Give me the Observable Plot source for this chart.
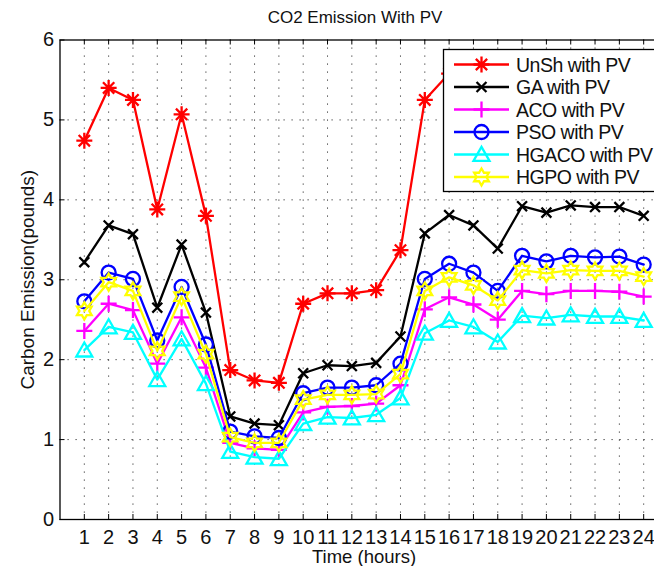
<!DOCTYPE html>
<html>
<head>
<meta charset="utf-8">
<script src="https://cdn.jsdelivr.net/npm/d3@7"></script>
<script src="https://cdn.jsdelivr.net/npm/@observablehq/plot@0.6"></script>
<style>
  html, body { margin: 0; padding: 0; background: #fff; overflow: hidden; width: 654px; height: 566px; }
  #chart svg { display: block; max-width: none !important; }
</style>
</head>
<body>
<div id="chart"></div>
<script>
// Hourly carbon emission (pounds) for each scheduling method, with PV generation
const hours = [1, 2, 3, 4, 5, 6, 7, 8, 9, 10, 11, 12, 13, 14, 15, 16, 17, 18, 19, 20, 21, 22, 23, 24];
const yTicks = [0, 1, 2, 3, 4, 5, 6];

const seriesNames = ["UnSh with PV", "GA with PV", "ACO with PV", "PSO with PV", "HGACO with PV", "HGPO with PV"];
const seriesColors = ["#ff0000", "#000000", "#ff00ff", "#0000ff", "#00ffff", "#ffff00"];

const unshPV  = [4.74, 5.40, 5.25, 3.88, 5.07, 3.80, 1.87, 1.74, 1.71, 2.70, 2.83, 2.83, 2.87, 3.37, 5.25, 5.58, 5.40, 5.00, 5.75, 5.65, 5.75, 5.72, 5.72, 5.58];
const gaPV    = [3.22, 3.68, 3.57, 2.65, 3.44, 2.59, 1.29, 1.20, 1.18, 1.83, 1.93, 1.92, 1.96, 2.29, 3.58, 3.81, 3.68, 3.39, 3.92, 3.84, 3.93, 3.91, 3.91, 3.80];
const acoPV   = [2.36, 2.70, 2.62, 1.95, 2.53, 1.90, 0.96, 0.89, 0.87, 1.34, 1.41, 1.42, 1.45, 1.68, 2.63, 2.78, 2.69, 2.50, 2.86, 2.82, 2.86, 2.86, 2.85, 2.79];
const psoPV   = [2.73, 3.09, 3.01, 2.24, 2.91, 2.19, 1.10, 1.04, 1.02, 1.58, 1.65, 1.65, 1.68, 1.95, 3.01, 3.20, 3.09, 2.86, 3.30, 3.23, 3.30, 3.28, 3.29, 3.19];
const hgacoPV = [2.12, 2.41, 2.34, 1.75, 2.26, 1.70, 0.85, 0.78, 0.76, 1.20, 1.28, 1.27, 1.31, 1.52, 2.33, 2.49, 2.41, 2.22, 2.55, 2.52, 2.56, 2.54, 2.54, 2.49];
const hgpoPV  = [2.61, 2.97, 2.86, 2.11, 2.79, 2.07, 1.03, 0.96, 0.96, 1.50, 1.56, 1.56, 1.57, 1.82, 2.86, 3.03, 2.93, 2.74, 3.12, 3.08, 3.12, 3.11, 3.11, 3.04];
const seriesValues = [unshPV, gaPV, acoPV, psoPV, hgacoPV, hgpoPV];

// Marker shapes (stroke-only), in the style of classic MATLAB markers
const spokes = (angles) => ({
  draw(ctx, size) {
    const r = Math.sqrt(size / Math.PI);
    for (const a of angles) {
      const c = Math.cos(a * Math.PI / 180) * r, s = Math.sin(a * Math.PI / 180) * r;
      ctx.moveTo(-c, -s);
      ctx.lineTo(c, s);
    }
  }
});
const asterisk8 = spokes([0, 45, 90, 135]);
const cross = spokes([45, 135]);
const plus = spokes([0, 90]);
const ring = {
  draw(ctx, size) {
    const r = Math.sqrt(size / Math.PI);
    ctx.moveTo(r, 0);
    ctx.arc(0, 0, r, 0, 2 * Math.PI);
  }
};
const triangleUp = {
  draw(ctx, size) {
    const r = Math.sqrt(size / Math.PI);
    ctx.moveTo(0, -0.95 * r);
    ctx.lineTo(r, 0.8 * r);
    ctx.lineTo(-r, 0.8 * r);
    ctx.closePath();
  }
};
const hexagram = {
  draw(ctx, size) {
    const R = Math.sqrt(size / Math.PI), r = R / Math.sqrt(3);
    for (let k = 0; k < 12; k++) {
      const a = (-90 + k * 30) * Math.PI / 180, rr = k % 2 ? r : R;
      const px = Math.cos(a) * rr, py = Math.sin(a) * rr;
      if (k === 0) ctx.moveTo(px, py); else ctx.lineTo(px, py);
    }
    ctx.closePath();
  }
};
const seriesSymbols = [asterisk8, cross, plus, ring, triangleUp, hexagram];
const seriesMarkerR = [8, 7, 8, 7, 8, 8.5];

// Long-format rows built from the named arrays
const rows = seriesNames.flatMap((name, i) =>
  hours.map((h, j) => ({series: name, index: i, hour: h, value: seriesValues[i][j]}))
);

// Layout
const width = 680;           // the axes box runs past the page edge on the right
const height = 566;
const marginLeft = 59.5, marginTop = 39.5, marginBottom = 47, marginRight = 12.5;
const frameW = width - marginLeft - marginRight;
const frameH = height - marginTop - marginBottom;
const tickLen = 5;
const lineW = 2.3;
const font = "'Liberation Sans', Arial, Helvetica, sans-serif";

// Legend box (inside the axes, upper right)
function legend() {
  const g = d3.create("svg:g").attr("font-family", font);
  const x0 = 443.5, y0 = 49.5, rowH = 22.5, firstRow = 64.5;
  g.append("rect")
    .attr("x", x0).attr("y", y0)
    .attr("width", 230).attr("height", 142)
    .attr("fill", "#fff").attr("stroke", "#000").attr("stroke-width", 1.3);
  seriesNames.forEach((name, i) => {
    const y = firstRow + i * rowH;
    g.append("line")
      .attr("x1", 454).attr("x2", 509).attr("y1", y).attr("y2", y)
      .attr("stroke", seriesColors[i]).attr("stroke-width", lineW);
    g.append("path")
      .attr("transform", `translate(481.5,${y})`)
      .attr("d", d3.symbol(seriesSymbols[i], Math.PI * seriesMarkerR[i] ** 2)())
      .attr("fill", "none").attr("stroke", seriesColors[i]).attr("stroke-width", lineW);
    g.append("text")
      .attr("x", 516).attr("y", y).attr("dy", "0.36em")
      .attr("text-anchor", "start")
      .attr("font-size", 19.5).attr("letter-spacing", "-0.5px").attr("fill", "#111")
      .text(name);
  });
  return g.node();
}

const seriesMarks = seriesNames.flatMap((name, i) => {
  const data = rows.filter((d) => d.index === i);
  return [
    Plot.line(data, {x: "hour", y: "value", stroke: seriesColors[i], strokeWidth: lineW}),
    Plot.dot(data, {
      x: "hour", y: "value", symbol: () => seriesSymbols[i], r: seriesMarkerR[i],
      fill: "none", stroke: seriesColors[i], strokeWidth: lineW
    })
  ];
});

const chart = Plot.plot({
  width, height, marginLeft, marginTop, marginBottom, marginRight,
  style: {fontFamily: font, fontSize: "20px", background: "#fff", color: "#111", overflow: "visible"},
  x: {domain: [0, 25], ticks: hours, tickFormat: d3.format("d"), tickSize: 0, tickPadding: 10, label: null},
  y: {domain: [0, 6], ticks: yTicks, tickFormat: d3.format("d"), tickSize: 0, tickPadding: 6, label: null},
  symbol: {type: "identity"},
  marks: [
    // dotted grid
    Plot.ruleX(hours, {stroke: "#000", strokeOpacity: 0.8, strokeDasharray: "1.2,6.8"}),
    Plot.ruleY(yTicks.slice(1, -1), {stroke: "#000", strokeOpacity: 0.8, strokeDasharray: "1.2,6.8"}),
    // inward ticks on all four sides
    Plot.ruleX(hours, {stroke: "#000", insetTop: frameH - tickLen}),
    Plot.ruleX(hours, {stroke: "#000", insetBottom: frameH - tickLen}),
    Plot.ruleY(yTicks, {stroke: "#000", insetRight: frameW - tickLen}),
    Plot.ruleY(yTicks, {stroke: "#000", insetLeft: frameW - tickLen}),
    Plot.frame({stroke: "#000", strokeWidth: 1.3}),
    ...seriesMarks,
    legend,
    // title and axis labels
    Plot.text(["CO2 Emission With PV"], {frameAnchor: "top", lineAnchor: "middle", textAnchor: "middle", dx: -9, dy: -22, fontSize: 17, fill: "#111"}),
    Plot.text(["Time (hours)"], {frameAnchor: "bottom", lineAnchor: "middle", textAnchor: "middle", dy: 38, fontSize: 18.5, fill: "#111"}),
    Plot.text(["Carbon Emission(pounds)"], {frameAnchor: "left", lineAnchor: "middle", textAnchor: "middle", dx: -32, rotate: -90, fontSize: 19, fill: "#111"})
  ]
});

document.getElementById("chart").append(chart);
</script>
</body>
</html>
